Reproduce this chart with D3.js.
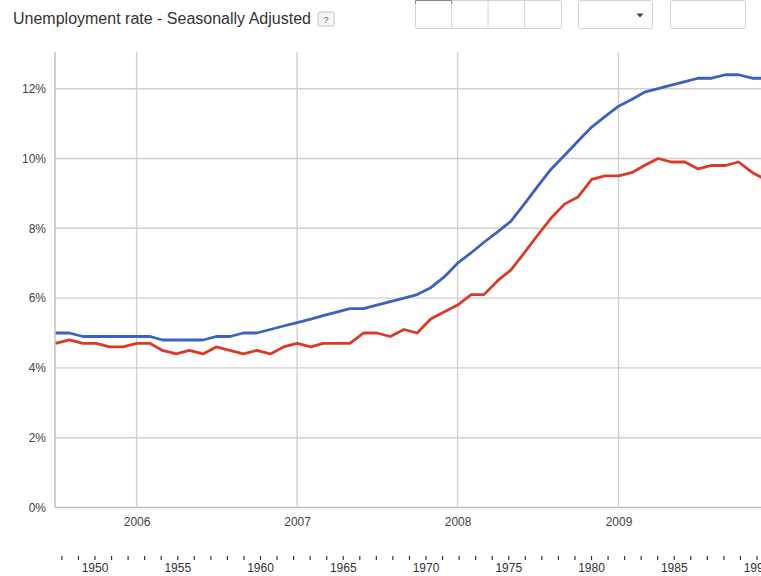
<!DOCTYPE html>
<html>
<head>
<meta charset="utf-8">
<script src="https://cdn.jsdelivr.net/npm/d3@7"></script>
<style>
  body { margin: 0; background: #fff; }
  svg { display: block; font-family: "Liberation Sans", Arial, sans-serif; }
</style>
</head>
<body>
<svg id="chart" width="761" height="576"></svg>
<script>
// Monthly unemployment rates (%), first month July 2005
const firstMonth = "2005-07-01";
const upperSeries = [
  5.0, 5.0, 4.9, 4.9, 4.9, 4.9, 4.9, 4.9, 4.8, 4.8, 4.8, 4.8,
  4.9, 4.9, 5.0, 5.0, 5.1, 5.2, 5.3, 5.4, 5.5, 5.6, 5.7, 5.7,
  5.8, 5.9, 6.0, 6.1, 6.3, 6.6, 7.0, 7.3, 7.6, 7.9, 8.2, 8.7,
  9.2, 9.7, 10.1, 10.5, 10.9, 11.2, 11.5, 11.7, 11.9, 12.0, 12.1, 12.2,
  12.3, 12.3, 12.4, 12.4, 12.3, 12.3, 12.3
];
const lowerSeries = [
  4.7, 4.8, 4.7, 4.7, 4.6, 4.6, 4.7, 4.7, 4.5, 4.4, 4.5, 4.4,
  4.6, 4.5, 4.4, 4.5, 4.4, 4.6, 4.7, 4.6, 4.7, 4.7, 4.7, 5.0,
  5.0, 4.9, 5.1, 5.0, 5.4, 5.6, 5.8, 6.1, 6.1, 6.5, 6.8, 7.3,
  7.8, 8.3, 8.7, 8.9, 9.4, 9.5, 9.5, 9.6, 9.8, 10.0, 9.9, 9.9,
  9.7, 9.8, 9.8, 9.9, 9.6, 9.4
];
const yTicks = [0, 2, 4, 6, 8, 10, 12];
const yearTicks = ["2006", "2007", "2008", "2009"];
const timelineLabels = [1950, 1955, 1960, 1965, 1970, 1975, 1980, 1985, 1990];
const timelineYears = d3.range(1948, 1991);

const title = "Unemployment rate - Seasonally Adjusted";
const colors = { upper: "#3b62c0", lower: "#db3b26" };

const svg = d3.select("#chart");
const parse = d3.timeParse("%Y-%m-%d");
const start = parse(firstMonth);
const monthAt = i => d3.timeMonth.offset(start, i);

const plot = { left: 55, top: 52, bottom: 507.5, right: 761 };

const x = d3.scaleTime()
  .domain([start, monthAt(53)])
  .range([55.7, 765.4]);
const y = d3.scaleLinear()
  .domain([0, 13])
  .range([plot.bottom, 53.8]);

// Title and help badge
svg.append("text")
  .attr("x", 13).attr("y", 24)
  .attr("font-size", 16)
  .attr("fill", "#333")
  .text(title);
const help = svg.append("g").attr("transform", "translate(318,12)");
help.append("rect")
  .attr("width", 16).attr("height", 14).attr("rx", 1.5)
  .attr("fill", "#f5f5f5").attr("stroke", "#c4c4c4");
help.append("text")
  .attr("x", 8).attr("y", 10.5).attr("text-anchor", "middle")
  .attr("font-size", 9).attr("fill", "#666").text("?");

// Top-right controls
const ctrl = svg.append("g").attr("fill", "#fff").attr("stroke", "#d4d4d4");
ctrl.append("rect").attr("x", 415.5).attr("y", 0.5).attr("width", 146).attr("height", 28).attr("rx", 2);
[451.7, 488, 524.7].forEach(cx =>
  ctrl.append("line").attr("x1", cx).attr("x2", cx).attr("y1", 0.5).attr("y2", 28.5));
ctrl.append("path").attr("d", "M415.5,4V0.5H451.7V4").attr("fill", "none").attr("stroke", "#888");
ctrl.append("rect").attr("x", 578.5).attr("y", 0.5).attr("width", 74).attr("height", 28).attr("rx", 2);
ctrl.append("rect").attr("x", 670.5).attr("y", 0.5).attr("width", 75).attr("height", 28).attr("rx", 2);
svg.append("path").attr("d", "M636.5,13.5h7l-3.5,4z").attr("fill", "#444");

// Grid
const grid = svg.append("g");
grid.selectAll(".hgrid").data(yTicks).join("line")
  .attr("x1", plot.left).attr("x2", plot.right)
  .attr("y1", d => y(d)).attr("y2", d => y(d))
  .attr("stroke", d => d === 0 ? "#bdbdbd" : "#d0d0d0").attr("stroke-width", 1.4);
const yearDates = yearTicks.map(t => parse(t + "-01-01"));
grid.selectAll(".vgrid").data(yearDates).join("line")
  .attr("x1", d => x(d)).attr("x2", d => x(d))
  .attr("y1", plot.top).attr("y2", plot.bottom)
  .attr("stroke", "#d0d0d0").attr("stroke-width", 1.4);
grid.append("line")
  .attr("x1", plot.left).attr("x2", plot.left)
  .attr("y1", plot.top).attr("y2", plot.bottom)
  .attr("stroke", "#bdbdbd").attr("stroke-width", 1.4);

// Y axis labels
const yAxis = d3.axisLeft(y).tickValues(yTicks).tickSize(0).tickPadding(9)
  .tickFormat(d => d + "%");
svg.append("g").attr("transform", `translate(${plot.left},0)`).call(yAxis)
  .call(g => g.select(".domain").remove())
  .call(g => g.selectAll("text").attr("font-size", 12).attr("fill", "#444")
    .attr("font-family", "'Liberation Sans', Arial, sans-serif"));

// X axis labels
const xAxis = d3.axisBottom(x).tickValues(yearDates).tickSize(0).tickPadding(10)
  .tickFormat(d3.timeFormat("%Y"));
svg.append("g").attr("transform", `translate(0,${plot.bottom})`).call(xAxis)
  .call(g => g.select(".domain").remove())
  .call(g => g.selectAll("text").attr("font-size", 12).attr("fill", "#444")
    .attr("font-family", "'Liberation Sans', Arial, sans-serif"));

// Lines
const line = d3.line()
  .x((d, i) => x(monthAt(i)))
  .y(d => y(d));
svg.append("clipPath").attr("id", "plotClip").append("rect")
  .attr("x", plot.left).attr("y", plot.top)
  .attr("width", plot.right - plot.left).attr("height", plot.bottom - plot.top);
const lines = svg.append("g").attr("clip-path", "url(#plotClip)");
lines.append("path").datum(upperSeries)
  .attr("d", line).attr("fill", "none")
  .attr("stroke", colors.upper).attr("stroke-width", 2.8).attr("stroke-linejoin", "round");
lines.append("path").datum(lowerSeries)
  .attr("d", line).attr("fill", "none")
  .attr("stroke", colors.lower).attr("stroke-width", 2.8).attr("stroke-linejoin", "round");

// Timeline strip
const tl = d3.scaleLinear().domain([1950, 1990]).range([95, 757]);
const strip = svg.append("g");
strip.selectAll(".tick").data(timelineYears).join("line")
  .attr("x1", d => tl(d)).attr("x2", d => tl(d))
  .attr("y1", 556).attr("y2", 560)
  .attr("stroke", "#333").attr("stroke-width", 1.2);
strip.selectAll(".lbl").data(timelineLabels).join("text")
  .attr("x", d => tl(d)).attr("y", 572)
  .attr("text-anchor", "middle")
  .attr("font-family", "'Liberation Sans Narrow', 'Liberation Sans', Arial, sans-serif")
  .attr("font-size", 12).attr("fill", "#333")
  .text(d => d);
</script>
</body>
</html>
